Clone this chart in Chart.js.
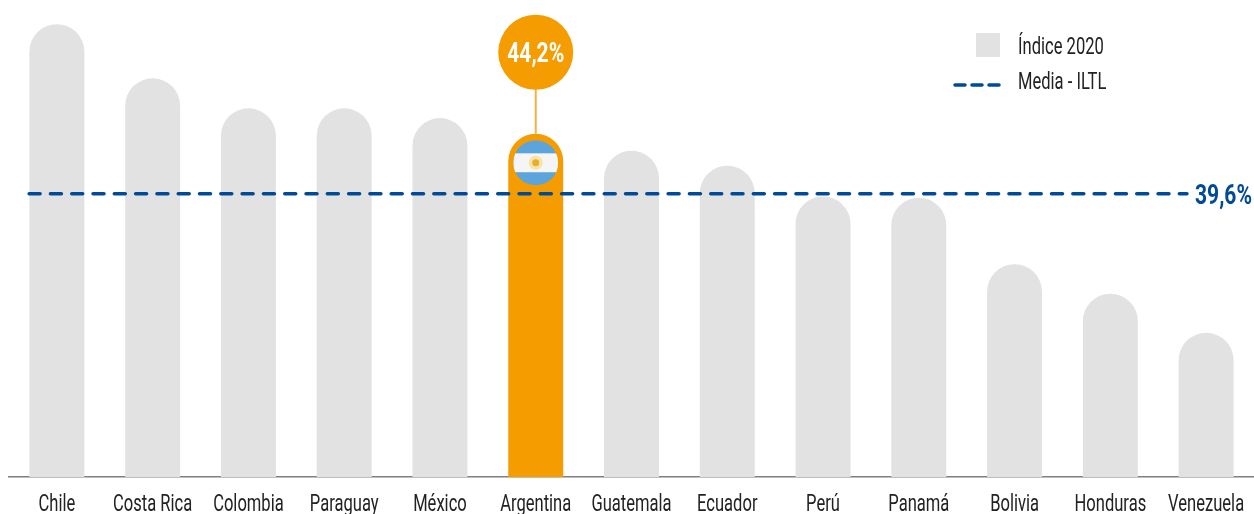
<!DOCTYPE html>
<html lang="es">
<head>
<meta charset="utf-8">
<style>html,body{margin:0;padding:0;background:#fff}#wrap{width:1254px;height:514px;position:relative}</style>
<script src="https://cdn.jsdelivr.net/npm/chart.js@4/dist/chart.umd.js"></script>
</head>
<body>
<div id="wrap"><canvas id="c" width="1254" height="514"></canvas></div>
<script>
const categories = ["Chile","Costa Rica","Colombia","Paraguay","México","Argentina","Guatemala","Ecuador","Perú","Panamá","Bolivia","Honduras","Venezuela"];
const indice2020 = [52.6,48.45,46.15,46.15,45.4,44.2,42.9,41.75,39.4,39.3,34.2,31.95,28.95];
const mediaValue = 39.6;
const mediaExtent = [-0.29,11.8];
const highlightCategory = "Argentina";
const highlightLabel = "44,2%";
const mediaLabel = "39,6%";
const legendLabels = ["Índice 2020","Media - ILTL"];

const GREY="#e2e2e2", ORANGE="#f59c00", BLUE="#004b97", TEXT="#222222";
const FONT='Roboto,"Liberation Sans",sans-serif';

let narrow=0.72;
const condensedText = {
  id:"condensedText",
  beforeInit(chart){
    const ctx=chart.ctx, orig=ctx.fillText.bind(ctx);
    ctx.fillText=(t,x,y)=>{ctx.save();ctx.translate(x,y);ctx.scale(narrow,1);orig(t,0,0);ctx.restore();};
  }
};

const annotations = {
  id:"annotations",
  afterDatasetsDraw(chart){
    const {ctx,scales}=chart, x=scales.x, y=scales.y;
    const i=categories.indexOf(highlightCategory);
    const cx=x.getPixelForValue(i), top=y.getPixelForValue(indice2020[i]);
    ctx.save();
    ctx.strokeStyle="#f5b042"; ctx.lineWidth=2;
    ctx.beginPath(); ctx.moveTo(cx,top-46); ctx.lineTo(cx,top); ctx.stroke();
    ctx.fillStyle=ORANGE; ctx.beginPath(); ctx.arc(cx,top-81.5,37.5,0,Math.PI*2); ctx.fill();
    narrow=0.78;
    ctx.fillStyle="#fff"; ctx.font='bold 27px '+FONT; ctx.textAlign="center"; ctx.textBaseline="middle";
    ctx.fillText(highlightLabel,cx,top-79);
    const fy=top+29, r=22.5;
    ctx.save(); ctx.beginPath(); ctx.arc(cx,fy,r,0,Math.PI*2); ctx.clip();
    ctx.fillStyle="#5ba5dc"; ctx.fillRect(cx-r,fy-r,2*r,2*r);
    ctx.fillStyle="#f5f5f5"; ctx.fillRect(cx-r,fy-r*0.42,2*r,r*0.84);
    ctx.restore();
    ctx.fillStyle="#f7e3a6"; ctx.beginPath(); ctx.arc(cx,fy,7,0,Math.PI*2); ctx.fill();
    ctx.fillStyle="#e8ad2a"; ctx.beginPath(); ctx.arc(cx,fy,3.5,0,Math.PI*2); ctx.fill();
    const my=y.getPixelForValue(mediaValue);
    ctx.fillStyle=BLUE; ctx.font='bold 27px '+FONT; ctx.textAlign="left"; ctx.textBaseline="middle";
    ctx.fillText(mediaLabel,1195,my+3);
    ctx.fillStyle=GREY; ctx.fillRect(976,33,24,24);
    ctx.strokeStyle=BLUE; ctx.lineWidth=3.5; ctx.lineCap="round"; ctx.setLineDash([10,7]);
    ctx.beginPath(); ctx.moveTo(955,85); ctx.lineTo(1000,85); ctx.stroke(); ctx.setLineDash([]);
    narrow=0.72;
    ctx.fillStyle=TEXT; ctx.font='23px '+FONT; ctx.textBaseline="middle";
    ctx.fillText(legendLabels[0],1018,48);
    ctx.fillText(legendLabels[1],1018,83);
    ctx.restore();
  }
};

new Chart(document.getElementById("c"),{
  type:"bar",
  data:{labels:categories,datasets:[
    {type:"line",label:legendLabels[1],order:0,xAxisID:"xLine",
     data:mediaExtent.map(v=>({x:v,y:mediaValue})),
     borderColor:BLUE,borderWidth:3.5,borderDash:[11,10.3],borderCapStyle:"round",pointRadius:0,fill:false},
    {label:legendLabels[0],order:1,data:indice2020,grouped:false,
     backgroundColor:categories.map(c=>c===highlightCategory?ORANGE:GREY),
     borderWidth:0,borderSkipped:"bottom",borderRadius:{topLeft:28,topRight:28,bottomLeft:0,bottomRight:0},
     barPercentage:0.574,categoryPercentage:1}
  ]},
  options:{
    responsive:false,animation:false,
    layout:{autoPadding:false,padding:{left:9,right:0,top:0,bottom:0}},
    plugins:{legend:{display:false},tooltip:{enabled:false},title:{display:false}},
    scales:{
      x:{type:"category",grid:{display:false},border:{display:true,color:"#7f7f7f",width:1.5},
         afterFit(s){s.height=37;s.paddingLeft=0;s.paddingRight=0;},
         afterUpdate(s){s.paddingLeft=0;s.paddingRight=0;s.configure();},
         ticks:{color:TEXT,font:{family:FONT,size:23},padding:6,autoSkip:false,maxRotation:0}},
      xLine:{type:"linear",display:false,offset:false,min:-0.5,max:12.5},
      y:{display:false,min:17.9,max:54.45,grid:{display:false}}
    }
  },
  plugins:[condensedText,annotations]
});
</script>
</body>
</html>
